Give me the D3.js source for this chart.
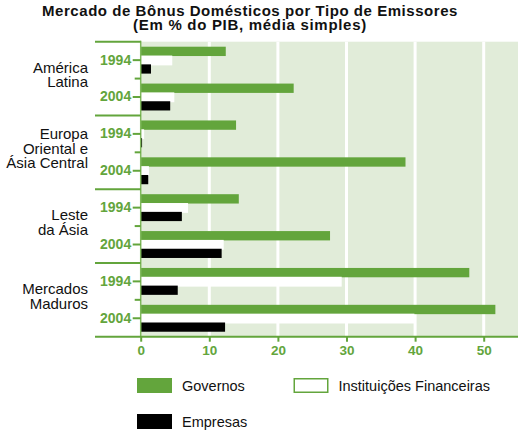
<!DOCTYPE html>
<html>
<head>
<meta charset="utf-8">
<script src="https://cdn.jsdelivr.net/npm/d3@7"></script>
<style>
    body { margin: 0; background: #fff; }
    text { font-family: "Liberation Sans", Arial, sans-serif; }
</style>
</head>
<body>
<div id="chart"></div>
<script>

// Data (% do PIB)
const regions = ["América Latina", "Europa Oriental e Ásia Central", "Leste da Ásia", "Mercados Maduros"];
const regionLines = [["América", "Latina"], ["Europa", "Oriental e", "Ásia Central"], ["Leste", "da Ásia"], ["Mercados", "Maduros"]];
const years = ["1994", "2004"];
// order: region x year (1994, 2004)
const governos = [12.4, 22.3, 13.9, 38.6, 14.3, 27.6, 47.9, 51.7];
const instituicoes = [4.6, 4.9, 0.5, 1.2, 6.9, 12.1, 29.3, 39.9];
const empresas = [1.5, 4.3, 0.2, 1.1, 6.0, 11.8, 5.4, 12.3];
const seriesNames = ["Governos", "Instituições Financeiras", "Empresas"];
const xTicks = [0, 10, 20, 30, 40, 50];

const width = 523, height = 434;
const green = "#63a53c", lightGreen = "#e1ecd9";

let rows = [];
regions.forEach(function (r, i) {
    years.forEach(function (y, j) {
        rows.push({
            key: r + "|" + y,
            region: r,
            year: y,
            values: [governos[i * 2 + j], instituicoes[i * 2 + j], empresas[i * 2 + j]]
        });
    });
});

const svg = d3.select("#chart").append("svg")
    .attr("width", width)
    .attr("height", height);

const plotTop = 41.7, plotBottom = 336.7, boxLeft = 95;

// Scales
const x = d3.scaleLinear()
    .domain([0, 55])
    .range([140.7, 518]);

const yRow = d3.scaleBand()
    .domain(rows.map(d => d.key))
    .range([plotTop, plotBottom]);

const yRegion = d3.scaleBand()
    .domain(regions)
    .range([plotTop, plotBottom]);

const ySeries = d3.scaleBand()
    .domain([0, 1, 2])
    .range([5, 31.5]);

// Title
svg.append("text")
    .attr("x", 250)
    .attr("y", 15.5)
    .attr("text-anchor", "middle")
    .attr("font-weight", "bold")
    .attr("font-size", "15px")
    .attr("letter-spacing", "0.55px")
    .attr("fill", "#111")
    .text("Mercado de Bônus Domésticos por Tipo de Emissores");

svg.append("text")
    .attr("x", 250)
    .attr("y", 30)
    .attr("text-anchor", "middle")
    .attr("font-weight", "bold")
    .attr("font-size", "15px")
    .attr("letter-spacing", "0.7px")
    .attr("fill", "#111")
    .text("(Em % do PIB, média simples)");

// Background + white grid
svg.append("rect")
    .attr("x", x(0))
    .attr("y", plotTop)
    .attr("width", x.range()[1] - x(0))
    .attr("height", plotBottom - plotTop)
    .attr("fill", lightGreen);

svg.selectAll(".grid")
    .data(xTicks.slice(1))
    .enter().append("line")
    .attr("class", "grid")
    .attr("x1", d => x(d))
    .attr("x2", d => x(d))
    .attr("y1", plotTop)
    .attr("y2", plotBottom)
    .attr("stroke", "#fff")
    .attr("stroke-width", 3);

// Bars
const seriesFill = [green, "#fff", "#000"];
const seriesExtra = [0.5, 1, 0.4];

let rowG = svg.selectAll(".row")
    .data(rows)
    .enter().append("g")
    .attr("class", "row")
    .attr("transform", d => "translate(0," + yRow(d.key) + ")");

rowG.selectAll("rect")
    .data(d => d.values.map((v, i) => ({value: v, series: i})))
    .enter().append("rect")
    .attr("x", d => x(0) - (d.series === 0 ? 0.7 : 0))
    .attr("y", d => ySeries(d.series))
    .attr("width", d => x(d.value) - x(0) + (d.series === 0 ? 0.7 : 0))
    .attr("height", d => ySeries.bandwidth() + seriesExtra[d.series])
    .attr("fill", d => seriesFill[d.series]);

// Left axis vertical line
svg.append("line")
    .attr("x1", x(0))
    .attr("x2", x(0))
    .attr("y1", plotTop - 1)
    .attr("y2", plotBottom)
    .attr("stroke", "#7fb85c")
    .attr("stroke-width", 1.5);

// Group separators
svg.selectAll(".sep")
    .data(regions)
    .enter().append("line")
    .attr("class", "sep")
    .attr("x1", boxLeft)
    .attr("x2", x(0))
    .attr("y1", d => yRegion(d))
    .attr("y2", d => yRegion(d))
    .attr("stroke", green)
    .attr("stroke-width", 2);

// Short ticks between years
svg.selectAll(".midtick")
    .data(regions)
    .enter().append("line")
    .attr("class", "midtick")
    .attr("x1", x(0) - 6)
    .attr("x2", x(0))
    .attr("y1", d => yRow(d + "|" + years[1]))
    .attr("y2", d => yRow(d + "|" + years[1]))
    .attr("stroke", green)
    .attr("stroke-width", 2);

// Year axis
let yAxis = d3.axisLeft(yRow)
    .tickSize(8)
    .tickPadding(1.5)
    .tickFormat(k => k.split("|")[1]);

let yAxisG = svg.append("g")
    .attr("transform", "translate(" + x(0) + ",0)")
    .call(yAxis);

yAxisG.select(".domain").remove();
yAxisG.selectAll("line").attr("stroke", green).attr("stroke-width", 2);
yAxisG.selectAll("text")
    .attr("fill", green)
    .attr("font-weight", "bold")
    .attr("font-size", "14px")
    .attr("font-family", "Liberation Sans, Arial, sans-serif");

// Region labels
svg.selectAll(".region")
    .data(regions)
    .enter().append("text")
    .attr("class", "region")
    .attr("text-anchor", "end")
    .attr("font-size", "15px")
    .attr("fill", "#111")
    .each(function (d, i) {
        let lines = regionLines[i];
        let c = yRegion(d) + yRegion.bandwidth() / 2;
        d3.select(this).selectAll("tspan")
            .data(lines)
            .enter().append("tspan")
            .attr("x", 88)
            .attr("y", (t, k) => c + (k - (lines.length - 1) / 2) * 14.5 + 1.6)
            .text(t => t);
    });

// Bottom axis
svg.append("line")
    .attr("x1", boxLeft)
    .attr("x2", x.range()[1])
    .attr("y1", plotBottom)
    .attr("y2", plotBottom)
    .attr("stroke", green)
    .attr("stroke-width", 2);

let xAxis = d3.axisBottom(x)
    .tickValues(xTicks)
    .tickSize(5)
    .tickPadding(4);

let xAxisG = svg.append("g")
    .attr("transform", "translate(0," + plotBottom + ")")
    .call(xAxis);

xAxisG.select(".domain").remove();
xAxisG.selectAll("line").attr("stroke", green).attr("stroke-width", 2);
xAxisG.selectAll("text")
    .attr("fill", green)
    .attr("font-weight", "bold")
    .attr("font-size", "13.5px")
    .attr("font-family", "Liberation Sans, Arial, sans-serif");

// Legend
const legendPos = [[137, 378], [293.5, 378], [137, 414]];

let legend = svg.selectAll(".legend")
    .data(seriesNames)
    .enter().append("g")
    .attr("class", "legend")
    .attr("transform", (d, i) => "translate(" + legendPos[i][0] + "," + legendPos[i][1] + ")");

legend.append("rect")
    .attr("x", (d, i) => i === 1 ? 0.75 : 0)
    .attr("y", (d, i) => i === 1 ? 0.75 : 0)
    .attr("width", (d, i) => i === 1 ? 33.5 : 35)
    .attr("height", (d, i) => i === 1 ? 13.5 : 15)
    .attr("fill", (d, i) => seriesFill[i])
    .attr("stroke", (d, i) => i === 1 ? green : "none")
    .attr("stroke-width", 1.5);

legend.append("text")
    .attr("x", 45)
    .attr("y", 12.5)
    .attr("font-size", "14.5px")
    .attr("fill", "#111")
    .text(d => d);

</script>
</body>
</html>
